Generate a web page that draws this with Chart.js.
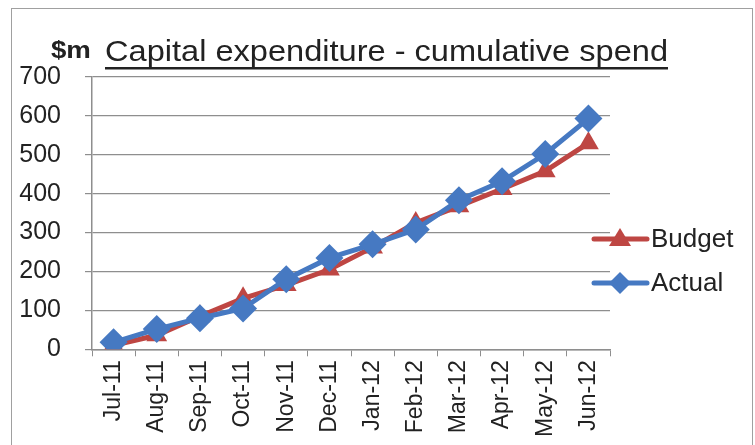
<!DOCTYPE html>
<html>
<head>
<meta charset="utf-8">
<script src="https://cdn.jsdelivr.net/npm/chart.js@4.4.0/dist/chart.umd.min.js"></script>
<style>
html, body { margin: 0; padding: 0; background: #fff; }
#wrap { position: relative; width: 755px; height: 445px; overflow: hidden; }
#frame { position: absolute; left: 11px; top: 8px; width: 740px; height: 460px; border: 1px solid #a0a0a0; }
#capexChart { position: absolute; left: 0; top: 0; }
</style>
</head>
<body>
<div id="wrap">
  <div id="frame"></div>
  <canvas id="capexChart" width="755" height="445"></canvas>
</div>
<script>
// data
let months = ['Jul-11', 'Aug-11', 'Sep-11', 'Oct-11', 'Nov-11', 'Dec-11', 'Jan-12', 'Feb-12', 'Mar-12', 'Apr-12', 'May-12', 'Jun-12'];
let budget = [10, 36, 85, 131, 165, 205, 262, 325, 368, 412, 458, 530];
let actual = [18, 52, 80, 105, 180, 235, 270, 308, 383, 432, 502, 593];
let yTicks = [0, 100, 200, 300, 400, 500, 600, 700];
let seriesNames = ['Budget', 'Actual'];
let unitText = '$m';
let titleText = 'Capital expenditure - cumulative spend';

let red = '#be4643';
let blue = '#4679c2';
let gridGray = '#8e8e8e';

// title and legend are drawn by hand (underline, line+marker keys)
let decorations = {
    id: 'decorations',
    afterDraw(chart) {
        let ctx = chart.ctx;
        ctx.save();
        ctx.fillStyle = '#222';
        ctx.textBaseline = 'alphabetic';

        // "$m"
        ctx.save();
        ctx.translate(51, 58);
        ctx.scale(1.15, 1);
        ctx.font = 'bold 24px "Liberation Sans", Arial, sans-serif';
        ctx.fillText(unitText, 0, 0);
        ctx.restore();

        // underlined title
        ctx.save();
        ctx.translate(105, 61);
        ctx.font = '29px "Liberation Sans", Arial, sans-serif';
        let w = ctx.measureText(titleText).width;
        let sx = 563 / w;
        ctx.scale(sx, 1);
        ctx.fillText(titleText, 0, 0);
        ctx.restore();
        ctx.fillRect(105, 67, 563, 2.5);

        // legend
        let rows = [
            { name: seriesNames[0], color: red, shape: 'triangle', y: 239 },
            { name: seriesNames[1], color: blue, shape: 'diamond', y: 283 }
        ];
        rows.forEach(function (r) {
            ctx.strokeStyle = r.color;
            ctx.lineWidth = 5;
            ctx.lineCap = 'round';
            ctx.beginPath();
            ctx.moveTo(594, r.y);
            ctx.lineTo(647, r.y);
            ctx.stroke();
            ctx.fillStyle = r.color;
            ctx.beginPath();
            if (r.shape === 'triangle') {
                ctx.moveTo(620, r.y - 11);
                ctx.lineTo(620 + 11, r.y + 7);
                ctx.lineTo(620 - 11, r.y + 7);
            } else {
                ctx.moveTo(620, r.y - 11);
                ctx.lineTo(631, r.y);
                ctx.lineTo(620, r.y + 11);
                ctx.lineTo(609, r.y);
            }
            ctx.closePath();
            ctx.fill();
            ctx.fillStyle = '#222';
            ctx.font = '26px "Liberation Sans", Arial, sans-serif';
            ctx.textBaseline = 'middle';
            ctx.fillText(r.name, 651, r.y + 1);
        });
        ctx.restore();
    }
};

let chart = document.getElementById('capexChart');
let capexChart = new Chart(chart, {
    type: 'line',
    data: {
        labels: months,
        datasets: [
            {
                label: seriesNames[0],
                data: budget,
                order: 2,
                borderColor: red,
                backgroundColor: red,
                borderWidth: 5,
                pointStyle: 'triangle',
                pointRadius: 12,
                pointBorderWidth: 0,
                pointBackgroundColor: red,
                tension: 0,
                fill: false
            },
            {
                label: seriesNames[1],
                data: actual,
                order: 1,
                borderColor: blue,
                backgroundColor: blue,
                borderWidth: 5,
                pointStyle: 'rectRot',
                pointRadius: 14,
                pointBorderWidth: 0,
                pointBackgroundColor: blue,
                tension: 0,
                fill: false
            }
        ]
    },
    options: {
        responsive: false,
        animation: false,
        devicePixelRatio: 1,
        layout: { padding: { left: 0, top: 77, right: 145, bottom: 4 } },
        plugins: {
            legend: { display: false },
            tooltip: { enabled: false },
            title: { display: false }
        },
        scales: {
            x: {
                offset: true,
                grid: {
                    offset: true,
                    drawOnChartArea: false,
                    drawTicks: true,
                    tickLength: 7,
                    color: gridGray,
                    lineWidth: 1
                },
                border: { display: true, color: gridGray, width: 1.5 },
                ticks: {
                    minRotation: 90,
                    maxRotation: 90,
                    autoSkip: false,
                    padding: 4,
                    color: '#222',
                    font: { family: '"Liberation Sans", Arial, sans-serif', size: 23 }
                }
            },
            y: {
                min: 0,
                max: 700,
                afterBuildTicks(axis) {
                    axis.ticks = yTicks.map(function (v) { return { value: v }; });
                },
                afterFit(axis) {
                    axis.width = 92;
                },
                grid: {
                    color: gridGray,
                    lineWidth: 1.2,
                    tickLength: 7
                },
                border: { display: true, color: gridGray, width: 1.5 },
                ticks: {
                    padding: 24,
                    color: '#222',
                    font: { family: '"Liberation Sans", Arial, sans-serif', size: 25 }
                }
            }
        }
    },
    plugins: [decorations]
});
</script>
</body>
</html>
